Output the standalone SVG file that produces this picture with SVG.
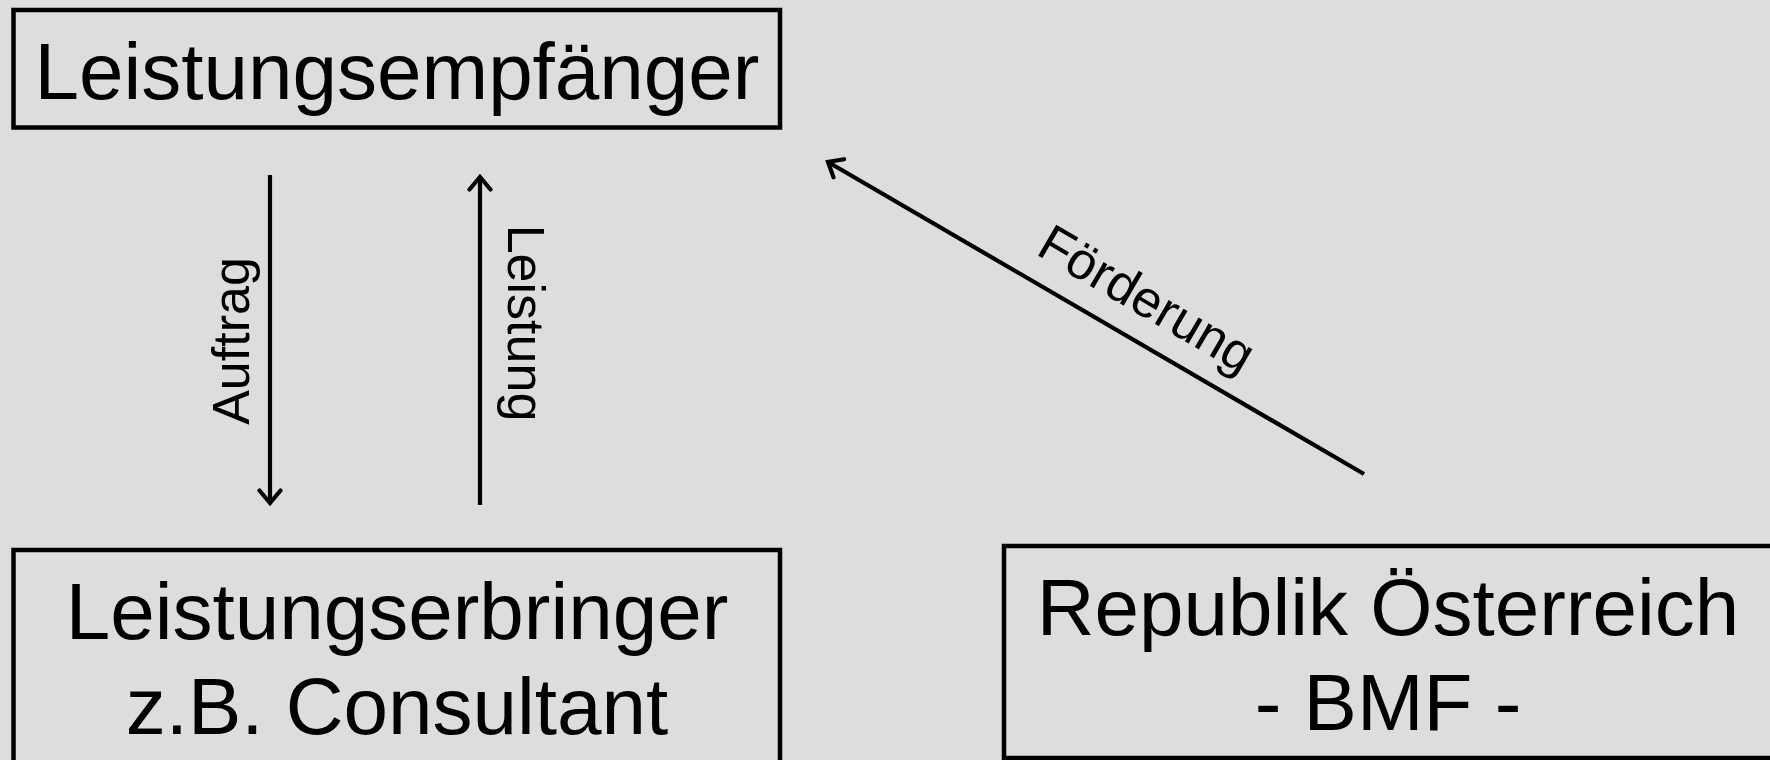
<svg xmlns="http://www.w3.org/2000/svg" width="1770" height="760" viewBox="0 0 1770 760">
<style>
.box{fill:none;stroke:#000;stroke-width:4.5}
.big{font-family:"Liberation Sans",Arial,sans-serif;font-size:80px;fill:#000;text-anchor:middle}
.lbl{font-family:"Liberation Sans",Arial,sans-serif;font-size:52px;fill:#000;text-anchor:middle}
.con{fill:none;stroke:#000;stroke-width:4.2;marker-end:url(#arr)}
</style>
<defs>
<marker id="arr" markerUnits="userSpaceOnUse" viewBox="0 0 18 26" markerWidth="18" markerHeight="26" refX="15" refY="13" orient="auto">
<path d="M2.5,2.5 L15,13 L2.5,23.5" fill="none" stroke="#000" stroke-width="4.2" stroke-linecap="round"/>
</marker>
</defs>
<rect x="0" y="0" width="1770" height="760" fill="#dddddd"/>
<g id="leistungsempfaenger">
<rect class="box" x="13.5" y="10" width="766.5" height="117.5"/>
<text class="big" x="397" y="99">Leistungsempfänger</text>
</g>
<g id="leistungserbringer">
<rect class="box" x="13.5" y="550" width="766.5" height="215"/>
<text class="big" x="397" y="639">Leistungserbringer</text>
<text class="big" x="397" y="734">z.B. Consultant</text>
</g>
<g id="republik">
<rect class="box" x="1004" y="546" width="770" height="212"/>
<text class="big" x="1388" y="635">Republik Österreich</text>
<text class="big" x="1388" y="730">- BMF -</text>
</g>
<g id="connectors">
<line class="con" x1="270" y1="175" x2="270" y2="503"/>
<line class="con" x1="480" y1="505" x2="480" y2="177"/>
<line class="con" x1="1364" y1="474" x2="828" y2="162"/>
<text class="lbl" transform="translate(249,341) rotate(-90)">Auftrag</text>
<text class="lbl" transform="translate(508,323) rotate(90)">Leistung</text>
<text class="lbl" transform="translate(1138,314) rotate(30.3)">Förderung</text>
</g>
</svg>
